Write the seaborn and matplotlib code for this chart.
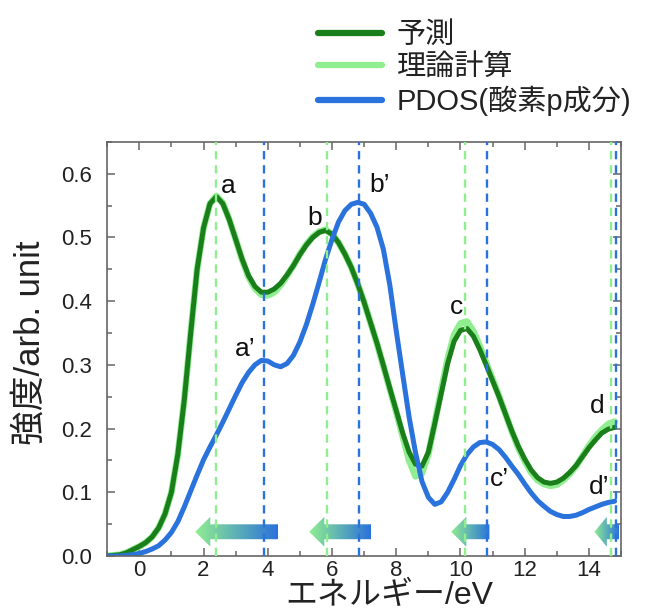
import numpy as np
import pandas as pd
import matplotlib
matplotlib.use("Agg")
import matplotlib.pyplot as plt
import seaborn as sns
from matplotlib.patches import Polygon
from matplotlib.colors import LinearSegmentedColormap
from matplotlib.ticker import MultipleLocator, FormatStrFormatter

# ---- data -------------------------------------------------------------
energy = [-1.0, -0.8, -0.6, -0.4, -0.2, 0.0, 0.2, 0.4, 0.6, 0.8,
          1.0, 1.2, 1.4, 1.6, 1.8, 2.0, 2.2, 2.4, 2.6, 2.8,
          3.0, 3.2, 3.4, 3.6, 3.8, 4.0, 4.2, 4.4, 4.6, 4.8,
          5.0, 5.2, 5.4, 5.6, 5.8, 6.0, 6.2, 6.4, 6.6, 6.8,
          7.0, 7.2, 7.4, 7.6, 7.8, 8.0, 8.2, 8.4, 8.6, 8.8,
          9.0, 9.2, 9.4, 9.6, 9.8, 10.0, 10.2, 10.4, 10.6, 10.8,
          11.0, 11.2, 11.4, 11.6, 11.8, 12.0, 12.2, 12.4, 12.6, 12.8,
          13.0, 13.2, 13.4, 13.6, 13.8, 14.0, 14.2, 14.4, 14.6, 14.8]

predicted = [0.000, 0.001, 0.002, 0.005, 0.010, 0.015, 0.021, 0.030, 0.044, 0.066,
             0.100, 0.160, 0.245, 0.350, 0.450, 0.515, 0.553, 0.564, 0.553, 0.528,
             0.497, 0.466, 0.440, 0.423, 0.414, 0.414, 0.419, 0.428, 0.441, 0.456,
             0.473, 0.488, 0.500, 0.508, 0.511, 0.505, 0.492, 0.474, 0.453, 0.427,
             0.398, 0.366, 0.334, 0.299, 0.263, 0.228, 0.193, 0.163, 0.144, 0.141,
             0.163, 0.208, 0.255, 0.302, 0.337, 0.354, 0.357, 0.345, 0.324, 0.300,
             0.275, 0.250, 0.223, 0.196, 0.172, 0.152, 0.135, 0.123, 0.116, 0.114,
             0.116, 0.122, 0.131, 0.142, 0.156, 0.170, 0.182, 0.193, 0.199, 0.202]

theory = [0.000, 0.001, 0.002, 0.005, 0.010, 0.015, 0.021, 0.030, 0.044, 0.066,
          0.100, 0.160, 0.245, 0.350, 0.450, 0.515, 0.553, 0.565, 0.554, 0.528,
          0.497, 0.465, 0.438, 0.420, 0.410, 0.409, 0.414, 0.425, 0.440, 0.456,
          0.474, 0.489, 0.501, 0.509, 0.512, 0.505, 0.492, 0.474, 0.453, 0.427,
          0.398, 0.366, 0.333, 0.298, 0.262, 0.226, 0.188, 0.150, 0.125, 0.130,
          0.160, 0.210, 0.260, 0.309, 0.347, 0.365, 0.368, 0.353, 0.329, 0.303,
          0.277, 0.251, 0.223, 0.195, 0.170, 0.149, 0.131, 0.119, 0.113, 0.110,
          0.112, 0.119, 0.129, 0.141, 0.157, 0.173, 0.187, 0.198, 0.207, 0.211]

pdos = [0.000, 0.000, 0.000, 0.001, 0.002, 0.004, 0.007, 0.011, 0.016, 0.025,
        0.037, 0.054, 0.077, 0.102, 0.127, 0.151, 0.171, 0.190, 0.210, 0.231,
        0.252, 0.272, 0.288, 0.300, 0.307, 0.306, 0.300, 0.297, 0.302, 0.315,
        0.336, 0.363, 0.395, 0.430, 0.466, 0.497, 0.524, 0.542, 0.552, 0.555,
        0.552, 0.538, 0.516, 0.481, 0.425, 0.353, 0.285, 0.218, 0.162, 0.117,
        0.092, 0.081, 0.085, 0.100, 0.120, 0.142, 0.159, 0.171, 0.178, 0.179,
        0.175, 0.167, 0.155, 0.141, 0.128, 0.113, 0.099, 0.087, 0.078, 0.070,
        0.065, 0.062, 0.062, 0.064, 0.068, 0.073, 0.077, 0.081, 0.084, 0.086]

series_labels = ["予測", "理論計算", "PDOS(酸素p成分)"]

# peak positions (eV)
theory_peaks = [2.39, 5.83, 10.15, 14.70]
pdos_peaks = [3.88, 6.83, 10.82, 14.84]

# peak labels
peak_names = ["a", "a’", "b", "b’", "c", "c’", "d", "d’"]
peak_name_x = [2.76, 3.29, 5.47, 7.48, 9.87, 11.21, 14.26, 14.32]
peak_name_y = [0.580, 0.325, 0.530, 0.582, 0.390, 0.121, 0.236, 0.108]

# shift arrows: from the PDOS peak (tail) towards the theory peak (tip)
shift_tail = [4.32, 7.22, 10.90, 14.94]
shift_tip = [1.74, 5.29, 9.71, 14.17]

x_ticks = [0, 2, 4, 6, 8, 10, 12, 14]
y_ticks = [0.0, 0.1, 0.2, 0.3, 0.4, 0.5, 0.6]

# ---- style ------------------------------------------------------------
DARK_GREEN = "#1a7f1a"
LIGHT_GREEN = "#90ee90"
BLUE = "#2a72dc"

sns.set_theme(style="ticks")
plt.rcParams["font.family"] = ["Liberation Sans", "Noto Sans CJK JP", "DejaVu Sans"]
plt.rcParams["axes.unicode_minus"] = False

fig = plt.figure(figsize=(6.70, 6.14), dpi=100)
ax = fig.add_axes([0.160, 0.0945, 0.767, 0.6745])

df = pd.DataFrame({"energy": energy, "predicted": predicted,
                   "theory": theory, "pdos": pdos})

sns.lineplot(data=df, x="energy", y="theory", ax=ax, color=LIGHT_GREEN,
             linewidth=4.8, label=series_labels[1], zorder=2)
sns.lineplot(data=df, x="energy", y="predicted", ax=ax, color=DARK_GREEN,
             linewidth=3.6, label=series_labels[0], zorder=2.2)
sns.lineplot(data=df, x="energy", y="pdos", ax=ax, color=BLUE,
             linewidth=3.6, label=series_labels[2], zorder=2.4)

# gradient arrows
cmap = LinearSegmentedColormap.from_list("shift", [LIGHT_GREEN, BLUE])
grad = np.linspace(0, 1, 256).reshape(1, -1)
yc, shaft_h, head_h = 0.038, 0.0117, 0.0234
for tail, tip in zip(shift_tail, shift_tip):
    head_l = min(0.47, 0.5 * (tail - tip))
    verts = [(tip, yc), (tip + head_l, yc + head_h), (tip + head_l, yc + shaft_h),
             (tail, yc + shaft_h), (tail, yc - shaft_h), (tip + head_l, yc - shaft_h),
             (tip + head_l, yc - head_h)]
    poly = Polygon(verts, closed=True, facecolor="none", edgecolor="none",
                   transform=ax.transData)
    ax.add_patch(poly)
    im = ax.imshow(grad, extent=[tip, tail, yc - head_h, yc + head_h],
                   aspect="auto", cmap=cmap, zorder=2.6, interpolation="bilinear")
    im.set_clip_path(poly)

# peak position markers
for xv in theory_peaks:
    ax.axvline(xv, color=LIGHT_GREEN, lw=1.7, ls=(0, (3.5, 2.5)), zorder=3)
for xv in pdos_peaks:
    ax.axvline(xv, color=BLUE, lw=1.7, ls=(0, (3.5, 2.5)), zorder=3)

for name, tx, ty in zip(peak_names, peak_name_x, peak_name_y):
    ax.text(tx, ty, name, fontsize=19, ha="center", va="center",
            color="#111111", zorder=4)

# axes
ax.set_xlim(-1, 15)
ax.set_ylim(0, 0.65)
ax.set_xticks(x_ticks)
ax.set_yticks(y_ticks)
ax.xaxis.set_minor_locator(MultipleLocator(1))
ax.yaxis.set_minor_locator(MultipleLocator(0.05))
ax.yaxis.set_major_formatter(FormatStrFormatter("%.1f"))
ax.tick_params(which="both", direction="in", top=True, right=True,
               color="#666666", width=1.1)
ax.tick_params(which="major", length=6, labelsize=16, labelcolor="#222222")
ax.tick_params(which="minor", length=3.5)
ax.tick_params(axis="y", which="major", pad=11)
ax.tick_params(axis="x", which="major", pad=3)
for sp in ax.spines.values():
    sp.set_color("#666666")
    sp.set_linewidth(1.2)

ax.set_xlabel("エネルギー/eV", fontsize=23, color="#222222")
ax.set_ylabel("強度/arb. unit", fontsize=25, color="#222222")
ax.xaxis.set_label_coords(0.549, -0.060)
ax.yaxis.set_label_coords(-0.117, 0.515)

handles, labels = ax.get_legend_handles_labels()
order = [labels.index(l) for l in series_labels]
leg = ax.legend([handles[i] for i in order], [labels[i] for i in order],
                loc="upper left", bbox_to_anchor=(318 / 670, 1 - 21 / 614),
                bbox_transform=fig.transFigure, frameon=False, fontsize=21,
                handlelength=2.2, handletextpad=0.5, labelspacing=0.15,
                borderpad=0, borderaxespad=0)
for line in leg.get_lines():
    line.set_linewidth(4.5)
for txt in leg.get_texts():
    txt.set_color("#222222")

fig.savefig("out.png", dpi=100)
